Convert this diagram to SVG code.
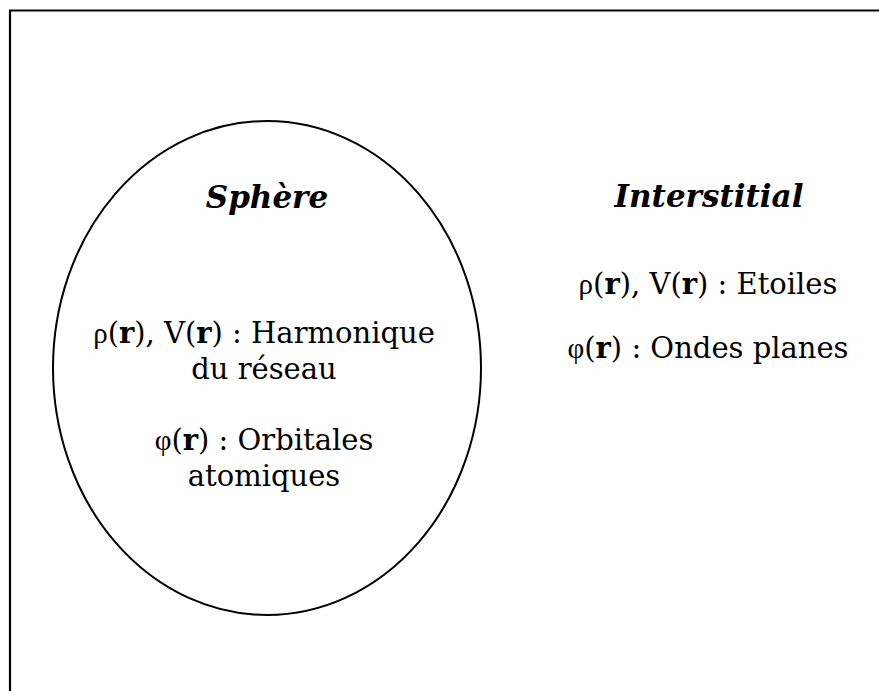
<svg xmlns="http://www.w3.org/2000/svg" width="879" height="691" viewBox="0 0 879 691">
<style>
.frame{fill:none;stroke:#000;stroke-width:2.2}
.shape{fill:none;stroke:#000;stroke-width:2}
.title{font-family:"DejaVu Serif","Liberation Serif",serif;font-weight:bold;font-style:italic;font-size:31px;fill:#000;text-anchor:middle}
.body{font-family:"DejaVu Serif","Liberation Serif",serif;font-size:29px;fill:#000;text-anchor:middle}
.b{font-weight:bold}
.sym{font-family:"Liberation Serif",serif}
</style>
<rect width="879" height="691" fill="#fff"/>
<g id="frame">
<path class="frame" d="M10,691 L10,10.5 L879,10.5"/>
</g>
<g id="sphere">
<ellipse class="shape" cx="267" cy="368" rx="214" ry="247"/>
<text class="title" x="267" y="208">Sphère</text>
<text class="body" x="264" y="343"><tspan class="sym">ρ</tspan>(<tspan class="b">r</tspan>), V(<tspan class="b">r</tspan>) : Harmonique</text>
<text class="body" x="264" y="379">du réseau</text>
<text class="body" x="264" y="450"><tspan class="sym">φ</tspan>(<tspan class="b">r</tspan>) : Orbitales</text>
<text class="body" x="264" y="486">atomiques</text>
</g>
<g id="interstitial">
<text class="title" x="709" y="207">Interstitial</text>
<text class="body" x="708" y="294"><tspan class="sym">ρ</tspan>(<tspan class="b">r</tspan>), V(<tspan class="b">r</tspan>) : Etoiles</text>
<text class="body" x="708" y="358"><tspan class="sym">φ</tspan>(<tspan class="b">r</tspan>) : Ondes planes</text>
</g>
<g id="connectors"></g>
</svg>
